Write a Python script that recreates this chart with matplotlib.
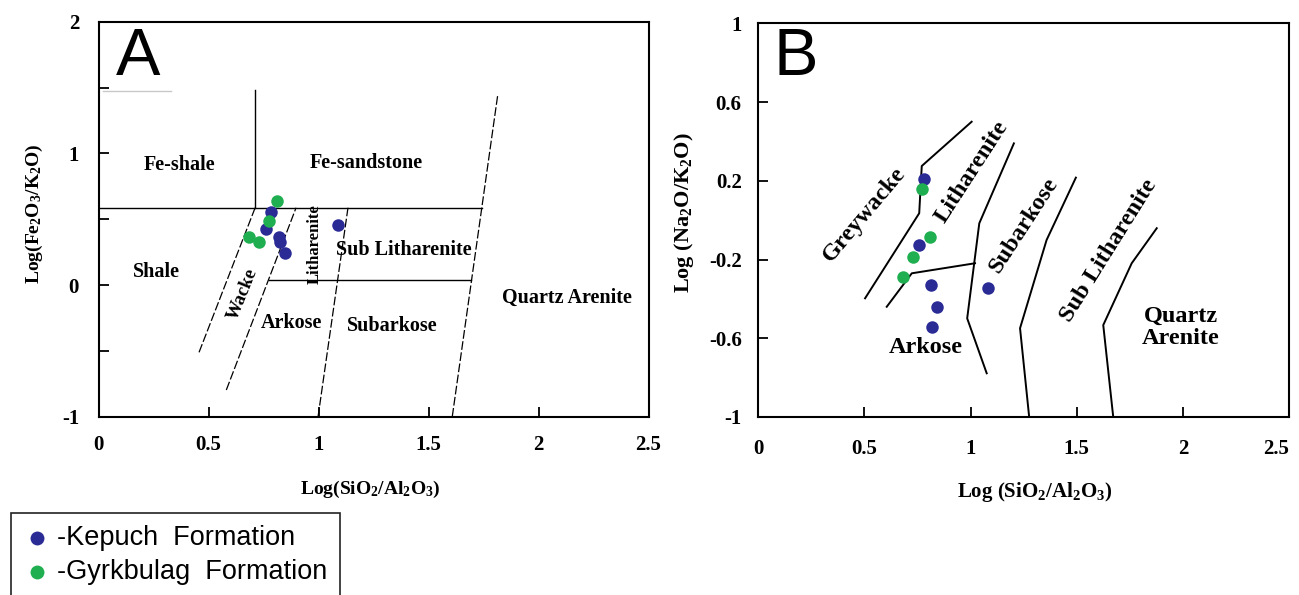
import matplotlib
matplotlib.use("Agg")
import matplotlib.pyplot as plt
from matplotlib.patches import Rectangle
from matplotlib.lines import Line2D

plt.rcParams["font.family"] = ["Liberation Serif", "DejaVu Serif"]
plt.rcParams["font.weight"] = "bold"
plt.rcParams["mathtext.fontset"] = "custom"
plt.rcParams["mathtext.rm"] = "Liberation Serif:bold"
plt.rcParams["mathtext.it"] = "Liberation Serif:bold"
plt.rcParams["mathtext.bf"] = "Liberation Serif:bold"

BLUE = "#2b2b96"
GREEN = "#1fae50"

# ---- panel A: Log(SiO2/Al2O3) vs Log(Fe2O3/K2O) ----
a_kepuch_x = [0.783, 0.760, 0.819, 0.825, 0.846, 1.090]
a_kepuch_y = [0.552, 0.426, 0.363, 0.329, 0.246, 0.456]
a_gyrk_x = [0.810, 0.776, 0.684, 0.731]
a_gyrk_y = [0.640, 0.489, 0.363, 0.327]

# solid boundaries
a_feshale_x, a_feshale_y = [0.712, 0.712], [1.48, 0.587]
a_upper_x, a_upper_y = [0.0, 1.742], [0.587, 0.587]
a_lower_x, a_lower_y = [0.773, 1.694], [0.042, 0.042]
# dashed boundaries
a_shale_x, a_shale_y = [0.457, 0.712], [-0.511, 0.587]
a_wacke_x, a_wacke_y = [0.581, 0.898], [-0.797, 0.587]
a_lith_x, a_lith_y = [0.998, 1.134], [-1.0, 0.587]
a_quartz_x, a_quartz_y = [1.608, 1.815], [-1.0, 1.447]
a_grey_x, a_grey_y = [0.02, 0.33], [1.475, 1.475]

a_labels = ["Fe-shale", "Fe-sandstone", "Shale", "Wacke", "Litharenite",
            "Sub Litharenite", "Arkose", "Subarkose", "Quartz Arenite"]
a_label_x = [0.37, 1.218, 0.265, 0.655, 0.984, 1.387, 0.879, 1.335, 2.13]
a_label_y = [0.909, 0.927, 0.096, -0.07, 0.314, 0.266, -0.29, -0.31, -0.10]
a_label_rot = [0, 0, 0, 68, 90, 0, 0, 0, 0]
a_label_size = [14.5, 14.5, 14.5, 13.5, 12, 14.5, 14.5, 14.5, 14.5]

a_xticks = [0, 0.5, 1, 1.5, 2, 2.5]
a_xticklabels = ["0", "0.5", "1", "1.5", "2", "2.5"]
a_yticks = [-1, 0, 1, 2]
a_yticklabels = ["-1", "0", "1", "2"]
a_yminor = [-0.5, 0.5, 1.5]

# ---- panel B: Log(SiO2/Al2O3) vs Log(Na2O/K2O) ----
b_kepuch_x = [0.782, 0.757, 0.812, 0.843, 0.820, 1.083]
b_kepuch_y = [0.208, -0.126, -0.329, -0.440, -0.541, -0.346]
b_gyrk_x = [0.770, 0.809, 0.727, 0.683]
b_gyrk_y = [0.157, -0.087, -0.189, -0.287]

b_grey_x = [0.503, 0.758, 0.770, 1.005]
b_grey_y = [-0.397, 0.035, 0.275, 0.500]
b_ark_x = [0.605, 0.723, 1.021]
b_ark_y = [-0.440, -0.270, -0.219]
b_lith_x = [1.204, 1.041, 0.984, 1.076]
b_lith_y = [0.390, -0.016, -0.499, -0.778]
b_subark_x = [1.496, 1.358, 1.233, 1.276]
b_subark_y = [0.216, -0.101, -0.549, -1.0]
b_sublith_x = [1.877, 1.759, 1.625, 1.672]
b_sublith_y = [-0.041, -0.219, -0.533, -1.0]

b_labels = ["Greywacke", "Litharenite", "Subarkose", "Sub Litharenite",
            "Quartz\nArenite", "Arkose"]
b_label_x = [0.50, 1.006, 1.252, 1.649, 1.99, 0.79]
b_label_y = [0.03, 0.245, -0.025, -0.155, -0.545, -0.645]
b_label_rot = [50, 57, 57, 58, 0, 0]

b_xticks = [0, 0.5, 1, 1.5, 2, 2.5]
b_xticklabels = ["0", "0.5", "1", "1.5", "2", "2.5"]
b_yticks = [-1, -0.6, -0.2, 0.2, 0.6, 1]
b_yticklabels = ["-1", "-0.6", "-0.2", "0.2", "0.6", "1"]

legend_labels = ["-Kepuch  Formation", "-Gyrkbulag  Formation"]

W, H = 1299, 595
fig = plt.figure(figsize=(W / 100, H / 100), dpi=100)
ax_a = fig.add_axes([98.5 / W, 1 - 416.7 / H, 550 / W, 395 / H])
ax_b = fig.add_axes([758.3 / W, 1 - 417 / H, 530.7 / W, 393.7 / H])


def style_axes(ax, pad_x, pad_y):
    for sp in ax.spines.values():
        sp.set_linewidth(1.5)
    ax.tick_params(axis="both", which="both", direction="in", top=False,
                   right=False, width=1.3, length=7, labelsize=15)
    ax.tick_params(axis="x", pad=pad_x)
    ax.tick_params(axis="y", pad=pad_y)


# panel A
ax_a.set_xlim(0, 2.5)
ax_a.set_ylim(-1, 2)
ax_a.set_xticks(a_xticks)
ax_a.set_xticklabels(a_xticklabels)
ax_a.set_yticks(a_yticks)
ax_a.set_yticklabels(a_yticklabels)
ax_a.set_yticks(a_yminor, minor=True)
style_axes(ax_a, 13, 14)

solid = dict(color="black", lw=1.0)
dashed = dict(color="black", lw=0.9, linestyle=(0, (7, 2)))
ax_a.plot(a_feshale_x, a_feshale_y, **solid)
ax_a.plot(a_upper_x, a_upper_y, **solid)
ax_a.plot(a_lower_x, a_lower_y, **solid)
for xs, ys in [(a_shale_x, a_shale_y), (a_wacke_x, a_wacke_y),
               (a_lith_x, a_lith_y), (a_quartz_x, a_quartz_y)]:
    ax_a.plot(xs, ys, **dashed)
ax_a.plot(a_grey_x, a_grey_y, color="#c8c8c8", lw=1.0)

for t, x, y, r, s in zip(a_labels, a_label_x, a_label_y, a_label_rot, a_label_size):
    ax_a.text(x, y, t, rotation=r, fontsize=s, ha="center", va="center")

ax_a.plot(a_kepuch_x, a_kepuch_y, "o", color=BLUE, ms=9, mec="none", zorder=5)
ax_a.plot(a_gyrk_x, a_gyrk_y, "o", color=GREEN, ms=9, mec="none", zorder=5)

ax_a.text(0.18, 1.728, "A", family="Liberation Sans", fontweight="normal",
          fontsize=48, ha="center", va="center")
ax_a.text(0.494, -0.185, r"Log(SiO$_2$/Al$_2$O$_3$)", transform=ax_a.transAxes,
          fontsize=14, ha="center", va="center")
ax_a.text(-0.116, 0.514, r"Log(Fe$_2$O$_3$/K$_2$O)", transform=ax_a.transAxes,
          fontsize=14, rotation=90, ha="center", va="center")

# panel B
ax_b.set_xlim(0, 2.5)
ax_b.set_ylim(-1, 1)
ax_b.set_xticks(b_xticks)
ax_b.set_xticklabels(b_xticklabels)
ax_b.set_yticks(b_yticks)
ax_b.set_yticklabels(b_yticklabels)
style_axes(ax_b, 16, 12)
# last tick label sits at the figure edge; keep it inside
ax_b.get_xticklabels()[-1].set_horizontalalignment("right")

thick = dict(color="black", lw=1.4)
for xs, ys in [(b_grey_x, b_grey_y), (b_ark_x, b_ark_y), (b_lith_x, b_lith_y),
               (b_subark_x, b_subark_y), (b_sublith_x, b_sublith_y)]:
    ax_b.plot(xs, ys, **thick)

for t, x, y, r in zip(b_labels, b_label_x, b_label_y, b_label_rot):
    ax_b.text(x, y, t, rotation=r, fontsize=17.5, ha="center", va="center",
              linespacing=1.1, rotation_mode="anchor")

ax_b.plot(b_kepuch_x, b_kepuch_y, "o", color=BLUE, ms=9, mec="none", zorder=5)
ax_b.plot(b_gyrk_x, b_gyrk_y, "o", color=GREEN, ms=9, mec="none", zorder=5)

ax_b.text(0.176, 0.823, "B", family="Liberation Sans", fontweight="normal",
          fontsize=48, ha="center", va="center")
ax_b.text(0.52, -0.19, r"Log (SiO$_2$/Al$_2$O$_3$)", transform=ax_b.transAxes,
          fontsize=15, ha="center", va="center")
ax_b.text(-0.14, 0.519, r"Log (Na$_2$O/K$_2$O)", transform=ax_b.transAxes,
          fontsize=16, rotation=90, ha="center", va="center")

# legend box, cut off by the bottom edge like the source
fig.add_artist(Rectangle((10.7 / W, -0.05), 329.3 / W, (595 - 513) / H + 0.05,
                         transform=fig.transFigure, fill=False, lw=1.2,
                         edgecolor="#222222"))
for lab, col, yy in zip(legend_labels, [BLUE, GREEN], [538, 572]):
    fig.add_artist(Line2D([36.7 / W], [1 - yy / H], marker="o", color=col,
                          ms=10, mec="none", transform=fig.transFigure))
    fig.text(57 / W, 1 - yy / H, lab, family="Liberation Sans",
             fontweight="normal", fontsize=19.5, ha="left", va="center")

fig.savefig("out.png", dpi=100)
